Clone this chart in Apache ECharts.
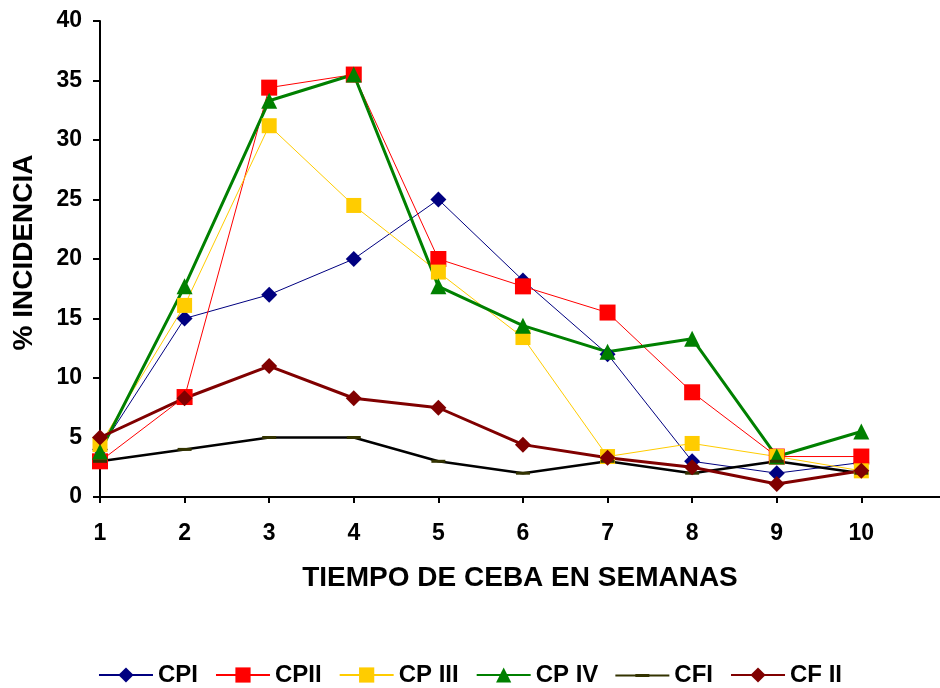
<!DOCTYPE html>
<html>
<head>
<meta charset="utf-8">
<script src="https://cdn.jsdelivr.net/npm/echarts@6/dist/echarts.min.js"></script>
<style>
html,body{margin:0;padding:0;background:#fff;}
#chart{width:940px;height:688px;}
</style>
</head>
<body>
<div id="chart"></div>
<script>
// Weeks (x categories)
var categories = [1, 2, 3, 4, 5, 6, 7, 8, 9, 10];
var seriesNames = ['CPI','CPII','CP III','CP IV','CFI','CF II'];
var cpI   = [4, 15, 17, 20, 25, 18.2, 12, 3, 2, 2.9];
var cpII  = [3, 8.4, 34.4, 35.5, 20, 17.7, 15.5, 8.8, 3.4, 3.4];
var cpIII = [4.4, 16.1, 31.2, 24.5, 18.9, 13.4, 3.4, 4.5, 3.4, 2.2];
var cpIV  = [3.8, 17.7, 33.3, 35.5, 17.7, 14.4, 12.2, 13.3, 3.4, 5.5];
var cfI   = [3, 4, 5, 5, 3, 2, 3, 2, 3, 2];
var cfII  = [5, 8.3, 11, 8.3, 7.5, 4.4, 3.3, 2.5, 1.1, 2.2];
var yTicks = {min: 0, max: 40, interval: 5};
var xRange = {min: 1, max: 10.93, interval: 1};

var font = 'Liberation Sans, Arial, Helvetica, sans-serif';
var chart = echarts.init(document.getElementById('chart'), null, {renderer: 'canvas'});

function pairs(vals) {
  return vals.map(function (v, i) { return [categories[i], v]; });
}

function mk(name, data, color, lineColor, width, symbol, size) {
  return {
    name: name, type: 'line', data: pairs(data),
    symbol: symbol, symbolSize: size, showAllSymbol: true,
    itemStyle: {color: color},
    lineStyle: {color: lineColor, width: width},
    emphasis: {disabled: true},
    animation: false
  };
}

var cfiIcon = 'path://M0,0L0.01,0L0.01,0.01Z M0,19L0.01,19L0.01,18.99Z M0,9L54,9L54,11L0,11Z M20,8.5L34,8.5L34,11.5L20,11.5Z';

chart.setOption({
  backgroundColor: '#ffffff',
  animation: false,
  grid: {left: 100, right: 0, top: 21, bottom: 191, containLabel: false},
  legend: {
    data: [
      {name: seriesNames[0]}, {name: seriesNames[1]}, {name: seriesNames[2]},
      {name: seriesNames[3]}, {name: seriesNames[4], icon: cfiIcon}, {name: seriesNames[5]}
    ],
    left: 'center', top: 663, padding: 0,
    itemWidth: 54, itemHeight: 19, itemGap: 17,
    textStyle: {fontFamily: font, fontWeight: 'bold', fontSize: 24, color: '#000'}
  },
  xAxis: {
    type: 'value', min: xRange.min, max: xRange.max, interval: xRange.interval,
    name: 'TIEMPO DE CEBA EN SEMANAS', nameLocation: 'middle', nameGap: 67,
    nameTextStyle: {fontFamily: font, fontWeight: 'bold', fontSize: 28, color: '#000'},
    axisLine: {lineStyle: {color: '#000', width: 2}},
    axisTick: {show: true, inside: false, length: 6, lineStyle: {color: '#000', width: 2}, customValues: categories},
    axisLabel: {margin: 25, fontFamily: font, fontWeight: 'bold', fontSize: 23, color: '#000', customValues: categories},
    splitLine: {show: false}
  },
  yAxis: {
    type: 'value', min: yTicks.min, max: yTicks.max, interval: yTicks.interval,
    name: '% INCIDENCIA', nameLocation: 'middle', nameGap: 62,
    nameTextStyle: {fontFamily: font, fontWeight: 'bold', fontSize: 28, color: '#000', padding: [0, 0, 0, 13]},
    axisLine: {show: true, lineStyle: {color: '#000', width: 2}},
    axisTick: {show: true, inside: false, length: 7, lineStyle: {color: '#000', width: 2}},
    axisLabel: {margin: 18, fontFamily: font, fontWeight: 'bold', fontSize: 23, color: '#000'},
    splitLine: {show: false}
  },
  series: [
    mk(seriesNames[0], cpI,   '#000080', '#000080', 1,   'diamond', 16),
    mk(seriesNames[1], cpII,  '#FF0000', '#FF0000', 1,   'rect', 16),
    mk(seriesNames[2], cpIII, '#FFCC00', '#FFCC00', 1,   'rect', 15),
    mk(seriesNames[3], cpIV,  '#008000', '#008000', 3,   'triangle', 16),
    mk(seriesNames[4], cfI,   '#333300', '#000000', 2.5, 'rect', [14, 3]),
    mk(seriesNames[5], cfII,  '#800000', '#800000', 3,   'diamond', 16)
  ]
});
</script>
</body>
</html>
